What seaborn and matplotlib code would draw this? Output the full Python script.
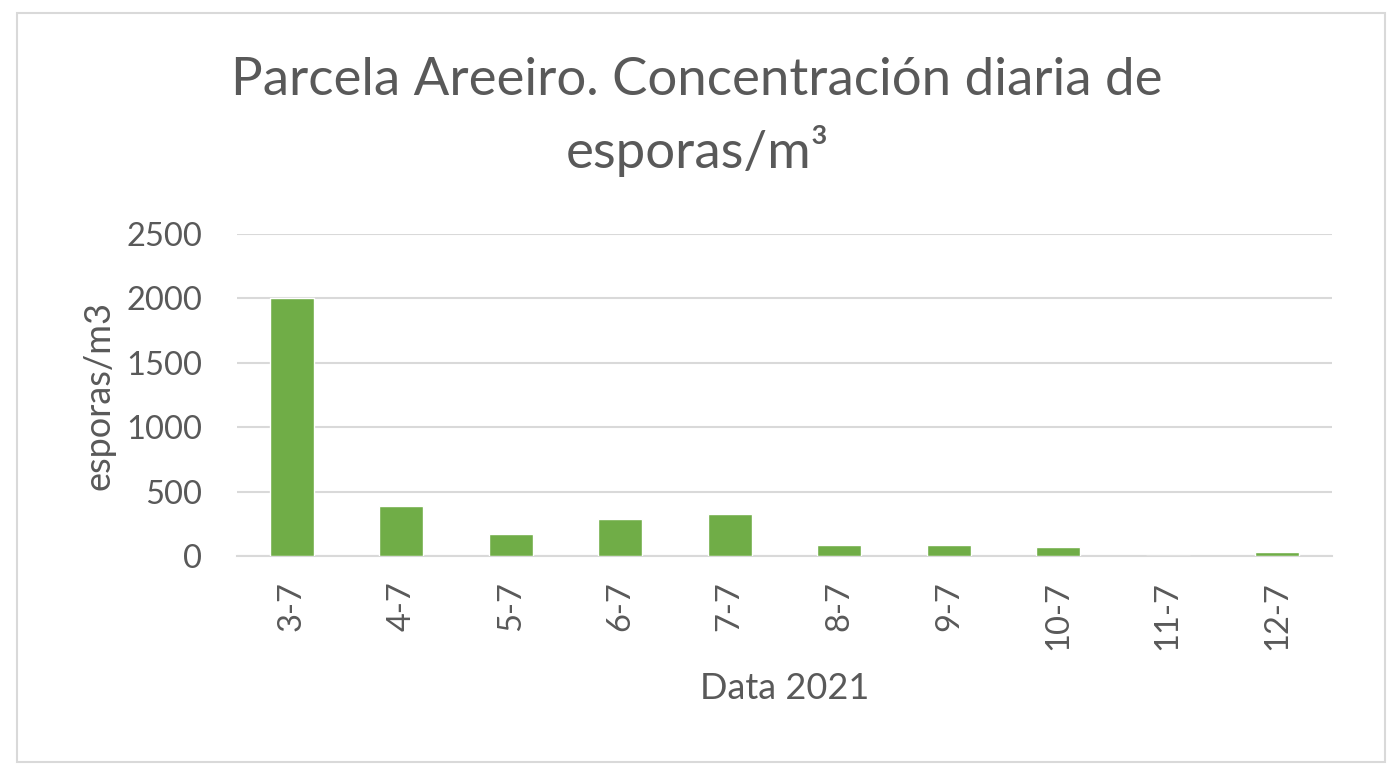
import matplotlib
matplotlib.use("Agg")
import matplotlib.pyplot as plt
import seaborn as sns
import pandas as pd
from matplotlib.patches import Rectangle

dates = ["3-7", "4-7", "5-7", "6-7", "7-7", "8-7", "9-7", "10-7", "11-7", "12-7"]
spores = [2005, 390, 169, 287, 329, 87, 87, 66, 0, 29]
yticks = [0, 500, 1000, 1500, 2000, 2500]

title = "Parcela Areeiro. Concentración diaria de\nesporas/m³"
xlabel = "Data 2021"
ylabel = "esporas/m3"

sns.set_theme(style="white")
plt.rcParams["font.family"] = ["Lato", "DejaVu Sans"]

text_color = "#595959"
grid_color = "#D9D9D9"
bar_color = "#70AD47"

df = pd.DataFrame({"date": dates, "spores": spores})

fig = plt.figure(figsize=(14, 7.83), dpi=100)
ax = fig.add_axes([237 / 1400, 1 - 556 / 783, (1332 - 237) / 1400, (556 - 234) / 783])

sns.barplot(data=df, x="date", y="spores", color=bar_color, saturation=1,
            width=0.4, ax=ax, zorder=3)

ax.set_ylim(0, 2500)
ax.set_xlim(-0.5, len(dates) - 0.5)
ax.set_yticks(yticks)
ax.set_yticklabels([str(v) for v in yticks], fontsize=23.5, color=text_color)
ax.yaxis.grid(True, color=grid_color, linewidth=1.5, zorder=0)
ax.set_axisbelow(True)
ax.tick_params(axis="y", length=0, pad=25)

ax.set_xticks(range(len(dates)))
ax.set_xticklabels(dates, rotation=90, fontsize=23.5, color=text_color)
ax.tick_params(axis="x", which="major", length=0, pad=18)
ax.set_xticks([i - 0.5 for i in range(len(dates) + 1)], minor=True)
ax.tick_params(axis="x", which="minor", length=10, width=1.5, color=grid_color)

for s in ["top", "right", "left"]:
    ax.spines[s].set_visible(False)
ax.spines["bottom"].set_color(grid_color)
ax.spines["bottom"].set_linewidth(1.5)

ax.set_xlabel(xlabel, fontsize=26, color=text_color, labelpad=16)
ax.set_ylabel(ylabel, fontsize=26, color=text_color, labelpad=8)

fig.text(0.498, 1 - 117 / 783, title, ha="center", va="center", fontsize=38,
         color=text_color, linespacing=1.48)

fig.patches.append(Rectangle((17 / 1400, 1 - 762 / 783), (1385 - 17) / 1400, (762 - 13) / 783,
                             transform=fig.transFigure, fill=False,
                             edgecolor=grid_color, linewidth=1.5))

fig.savefig("out.png", dpi=100, facecolor="white")
